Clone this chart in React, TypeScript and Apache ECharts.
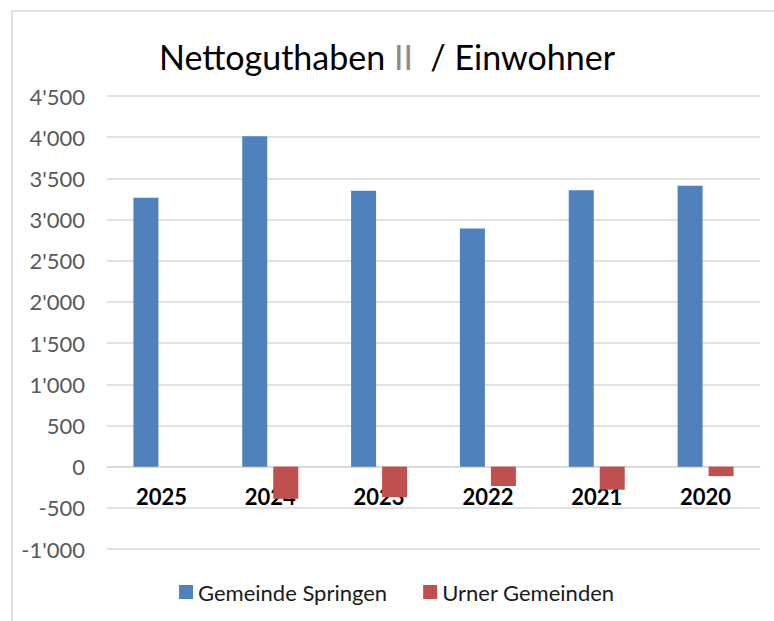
import React, { useEffect, useRef } from "react";
import * as echarts from "echarts";

const categories = ["2025", "2024", "2023", "2022", "2021", "2020"];
const springen = [3265, 4010, 3350, 2890, 3355, 3410];
const urner = [null, -390, -370, -235, -280, -115];
const seriesNames = ["Gemeinde Springen", "Urner Gemeinden"];
const yMin = -1000;
const yMax = 4500;
const yStep = 500;

const fmt = (v: number) => {
  const s = Math.abs(v).toString().replace(/\B(?=(\d{3})+(?!\d))/g, "'");
  return (v < 0 ? "-" : "") + s;
};

export default function App() {
  const ref = useRef<HTMLDivElement>(null);
  useEffect(() => {
    const chart = echarts.init(ref.current!, null, { renderer: "svg" });
    const gridTop = 96;
    const gridBottom = 72;
    const plotH = 621 - gridTop - gridBottom;
    const zeroOffset = (plotH * (0 - yMin)) / (yMax - yMin);
    chart.setOption({
      animation: false,
      textStyle: { fontFamily: "Lato" },
      title: {
        text: "Nettoguthaben {g|II}  / Einwohner",
        left: "center",
        top: 34,
        textStyle: {
          fontFamily: "Lato",
          fontSize: 34,
          fontWeight: "normal",
          color: "#000",
          rich: {
            g: { fontFamily: "Lato", fontSize: 34, color: "#8c8c8c" },
          },
        },
      },
      graphic: [
        {
          type: "rect",
          shape: { x: 12, y: 11, width: 800, height: 700 },
          style: { fill: "none", stroke: "#d9d9d9", lineWidth: 1.5 },
          silent: true,
        },
      ],
      legend: {
        left: 174,
        top: 576,
        itemWidth: 14,
        itemHeight: 14,
        itemGap: 36,
        icon: "rect",
        textStyle: { fontFamily: "Lato", fontSize: 22, color: "#1a1a1a" },
        data: seriesNames,
      },
      grid: { left: 107, right: 14, top: gridTop, bottom: gridBottom },
      xAxis: {
        type: "category",
        data: categories,
        offset: -zeroOffset,
        axisLine: { onZero: false, lineStyle: { color: "#d9d9d9", width: 1.5 } },
        axisTick: { length: 7, lineStyle: { color: "#d9d9d9", width: 1.5 } },
        axisLabel: {
          fontFamily: "Lato",
          fontSize: 22,
          fontWeight: "bold",
          color: "#000",
          margin: 19,
        },
      },
      yAxis: {
        type: "value",
        min: yMin,
        max: yMax,
        interval: yStep,
        axisLine: { show: false },
        axisTick: { show: false },
        splitLine: { lineStyle: { color: "#d9d9d9", width: 1.5 } },
        axisLabel: {
          fontFamily: "Lato",
          fontSize: 22,
          color: "#595959",
          margin: 22,
          formatter: (v: number) => fmt(v),
        },
      },
      series: [
        {
          name: seriesNames[0],
          type: "bar",
          data: springen,
          barWidth: 25,
          barGap: "24%",
          itemStyle: { color: "#4F81BD" },
        },
        {
          name: seriesNames[1],
          type: "bar",
          data: urner,
          barWidth: 25,
          itemStyle: { color: "#C0504D" },
        },
      ],
    });
    return () => chart.dispose();
  }, []);
  return (
    <div
      ref={ref}
      style={{ position: "absolute", left: 0, top: 0, width: 774, height: 621 }}
    />
  );
}
